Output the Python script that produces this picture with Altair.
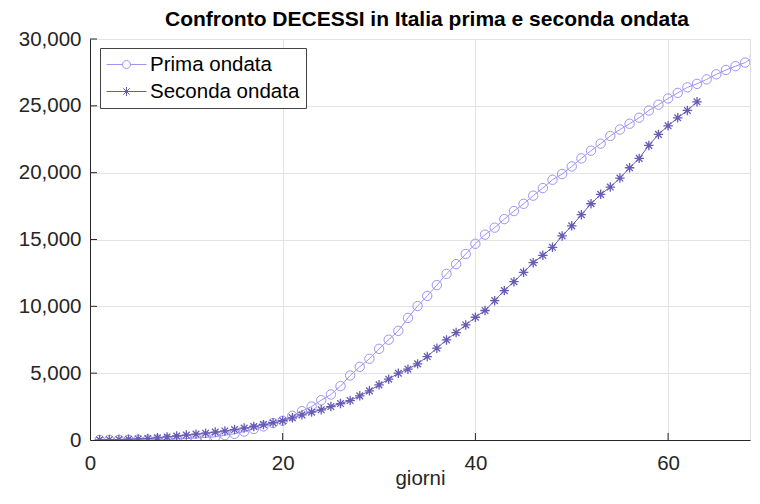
import altair as alt
import pandas as pd

# ---- data ----
serie_nomi = ["Prima ondata", "Seconda ondata"]

giorni_prima = list(range(1, 71))
decessi_prima = [7, 10, 12, 17, 21, 29, 34, 52, 79, 107,
                 148, 197, 233, 366, 463, 631, 827, 1016, 1266, 1441,
                 1809, 2158, 2503, 2978, 3405, 4032, 4825, 5476, 6077, 6820,
                 7503, 8165, 9134, 10023, 10779, 11591, 12428, 13155, 13915, 14681,
                 15362, 15887, 16523, 17127, 17669, 18279, 18849, 19468, 19899, 20465,
                 21067, 21645, 22170, 22745, 23227, 23660, 24114, 24648, 25085, 25549,
                 25969, 26384, 26644, 26977, 27359, 27682, 27967, 28236, 28710, 28884]

giorni_seconda = list(range(1, 64))
decessi_seconda = [10, 20, 35, 55, 80, 115, 160, 230, 300, 370,
                   440, 510, 590, 680, 780, 890, 1010, 1150, 1290, 1440,
                   1660, 1880, 2085, 2257, 2504, 2728, 2952, 3303, 3677, 4126,
                   4551, 5000, 5299, 5695, 6241, 6868, 7489, 8035, 8610, 9185,
                   9690, 10426, 11175, 11846, 12548, 13268, 13819, 14417, 15270, 16020,
                   16854, 17676, 18378, 18924, 19596, 20366, 21069, 22041, 22863, 23506,
                   24104, 24656, 25299]

x_ticks = [0, 20, 40, 60]
y_ticks = [0, 5000, 10000, 15000, 20000, 25000, 30000]

colori = ["#9d94f7", "#675cb5"]
FONT = "Liberation Sans"
AX = "#262626"
W, H = 660, 401

df_prima = pd.DataFrame({"serie": serie_nomi[0], "giorno": giorni_prima,
                         "decessi": decessi_prima})
df_seconda = pd.DataFrame({"serie": serie_nomi[1], "giorno": giorni_seconda,
                           "decessi": decessi_seconda})
df_all = pd.concat([df_prima, df_seconda], ignore_index=True)
df_leg = pd.DataFrame({"serie": serie_nomi})

star = "M-1,0H1M0,-1V1M-0.7,-0.7L0.7,0.7M-0.7,0.7L0.7,-0.7"
leg_circle = "M-1,0H0.6M1.4,0H3M0.6,0A0.4,0.4,0,1,1,1.4,0A0.4,0.4,0,1,1,0.6,0"
leg_star = ("M-1,0H3M1,-0.45V0.45M0.68,-0.32L1.32,0.32"
            "M0.68,0.32L1.32,-0.32")

x_scale = alt.Scale(domain=[0, 68.5], nice=False, zero=False)
y_scale = alt.Scale(domain=[0, 30000], nice=False)

x_axis = alt.Axis(values=x_ticks, format="d", title="giorni", grid=True,
                  gridColor="#e3e3e3", domainColor=AX, ticks=False,
                  labelFlush=False,
                  labelPadding=13, labelFontSize=20.5, labelFont=FONT,
                  labelColor=AX, titleFont=FONT, titleFontSize=20.5,
                  titleFontWeight="normal", titleColor=AX, titlePadding=-5)
y_axis = alt.Axis(values=y_ticks, format=",.0f", title=None, grid=True,
                  gridColor="#e3e3e3", domainColor=AX, ticks=False,
                  labelFlush=False,
                  labelPadding=9, labelFontSize=20.5, labelFont=FONT,
                  labelColor=AX)

color_scale = alt.Scale(domain=serie_nomi, range=colori)

legend = alt.Legend(
    title=None, orient="none", legendX=10, legendY=9,
    padding=6, rowPadding=6, fillColor="white", strokeColor="#444",
    labelFont=FONT, labelFontSize=20.5, labelColor="black",
    symbolSize=400, symbolStrokeWidth=1, labelOffset=23,
    symbolFillColor="transparent", symbolOpacity=1,
)

X = alt.X("giorno:Q", scale=x_scale, axis=x_axis)
Y = alt.Y("decessi:Q", scale=y_scale, axis=y_axis)
C = alt.Color("serie:N", scale=color_scale, legend=legend)

# legend carrier (invisible marks, visible legend) - first layer
leg_layer = alt.Chart(df_leg).mark_point(
    filled=False, size=400, strokeWidth=1, opacity=0
).encode(
    color=C,
    shape=alt.Shape("serie:N", scale=alt.Scale(domain=serie_nomi,
                                               range=[leg_circle, leg_star]),
                    legend=legend),
)

linee = alt.Chart(df_all).mark_line(strokeWidth=1, clip=True).encode(x=X, y=Y, color=C)

punti_prima = alt.Chart(df_prima).mark_point(
    filled=False, shape="circle", size=88, strokeWidth=1, clip=True, opacity=1
).encode(x=X, y=Y, color=C)

punti_seconda = alt.Chart(df_seconda).mark_point(
    filled=False, shape=star, size=90, strokeWidth=1.3, clip=True, opacity=1
).encode(x=X, y=Y, color=C)

tx = alt.Chart(pd.DataFrame({"t": x_ticks[1:]})).mark_rule(color=AX, strokeWidth=1).encode(
    x=alt.X("t:Q", scale=x_scale, axis=x_axis),
    y=alt.value(H), y2=alt.value(H - 7),
)
ty = alt.Chart(pd.DataFrame({"v": y_ticks[1:]})).mark_rule(color=AX, strokeWidth=1).encode(
    y=alt.Y("v:Q", scale=y_scale, axis=y_axis),
    x=alt.value(0), x2=alt.value(7),
)

chart = alt.layer(leg_layer, linee, punti_prima, punti_seconda, tx, ty).properties(
    width=W, height=H,
    title=alt.TitleParams("Confronto DECESSI in Italia prima e seconda ondata",
                          font=FONT, fontSize=21, fontWeight="bold", color="black",
                          offset=0, dy=1, anchor="middle", dx=7),
    autosize=alt.AutoSizeParams(type="none"),
    padding={"left": 82, "top": 31, "right": 2, "bottom": 50},
).configure_view(stroke=None).configure(background="white")

chart.save("out.html", embed_options={"renderer": "svg", "actions": False})
